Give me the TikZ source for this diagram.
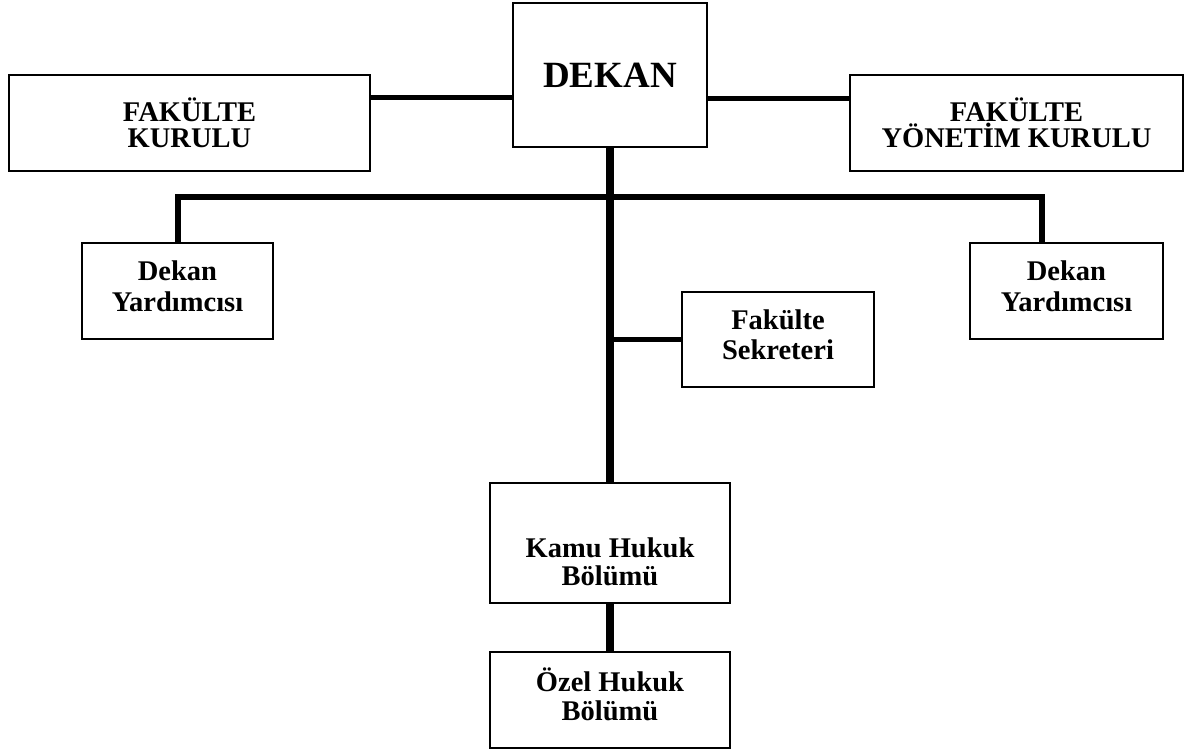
\documentclass[tikz,border=0pt]{standalone}
\usepackage{fontspec}
\setmainfont{Liberation Serif}
\begin{document}
\begin{tikzpicture}[x=1pt,y=-1pt,
  box/.style={draw=black, line width=1.5pt, fill=white, inner sep=0pt, align=center,
    font=\fontsize{28.5}{28}\selectfont\bfseries},
  txt/.style={align=center, font=\fontsize{28.5}{28}\selectfont\bfseries, inner sep=0pt},
  link/.style={line width=5pt, line cap=butt},
  thick link/.style={line width=8pt, line cap=butt},
  bar link/.style={line width=6pt}]
\useasboundingbox (0,0) rectangle (1191,749);
% nodes
\node[box, minimum width=194pt, minimum height=144pt, font=\fontsize{37}{40}\selectfont\bfseries] (dekan) at (610,75) {DEKAN};
\node[box, minimum width=361pt, minimum height=96pt, font=\fontsize{28.5}{26}\selectfont\bfseries] (fk) at (189.5,123) {FAKÜLTE\\KURULU};
\node[box, minimum width=333pt, minimum height=96pt, font=\fontsize{28.5}{26}\selectfont\bfseries] (fyk) at (1016.5,123) {FAKÜLTE\\YÖNETİM KURULU};
\node[box, minimum width=191pt, minimum height=96pt,
  label={[txt, font=\fontsize{28.5}{31}\selectfont\bfseries, yshift=5pt]center:{Dekan\\Yardımcısı}}] (dyl) at (177.5,291) {};
\node[box, minimum width=193pt, minimum height=96pt,
  label={[txt, font=\fontsize{28.5}{31}\selectfont\bfseries, yshift=5pt]center:{Dekan\\Yardımcısı}}] (dyr) at (1066.5,291) {};
\node[box, minimum width=192pt, minimum height=95pt,
  label={[txt, font=\fontsize{28.5}{30}\selectfont\bfseries, yshift=5pt]center:{Fakülte\\Sekreteri}}] (sek) at (778,339.5) {};
\node[box, minimum width=240pt, minimum height=120pt,
  label={[txt, yshift=-19pt]center:{Kamu Hukuk\\Bölümü}}] (kamu) at (610,543) {};
\node[box, minimum width=240pt, minimum height=96pt,
  label={[txt, font=\fontsize{28.5}{29}\selectfont\bfseries, yshift=6pt]center:{Özel Hukuk\\Bölümü}}] (ozel) at (610,700) {};
% coordinates
\coordinate (cL) at (0,98);
\coordinate (cR) at (0,99);
\coordinate (bar) at (610,197);
\coordinate (barR) at (1042,197);
% connectors
\draw[link] (fk.east |- cL) -- (dekan.west |- cL);
\draw[link] (dekan.east |- cR) -- (fyk.west |- cR);
\draw[bar link] (dyl.north) |- (bar) -- (barR) -- (barR |- dyr.north);
\draw[link] (sek.west) -- (sek.west -| dekan.south);
\draw[thick link] (dekan.south) -- (kamu.north);
\draw[thick link] (kamu.south) -- (ozel.north);
\end{tikzpicture}
\end{document}
